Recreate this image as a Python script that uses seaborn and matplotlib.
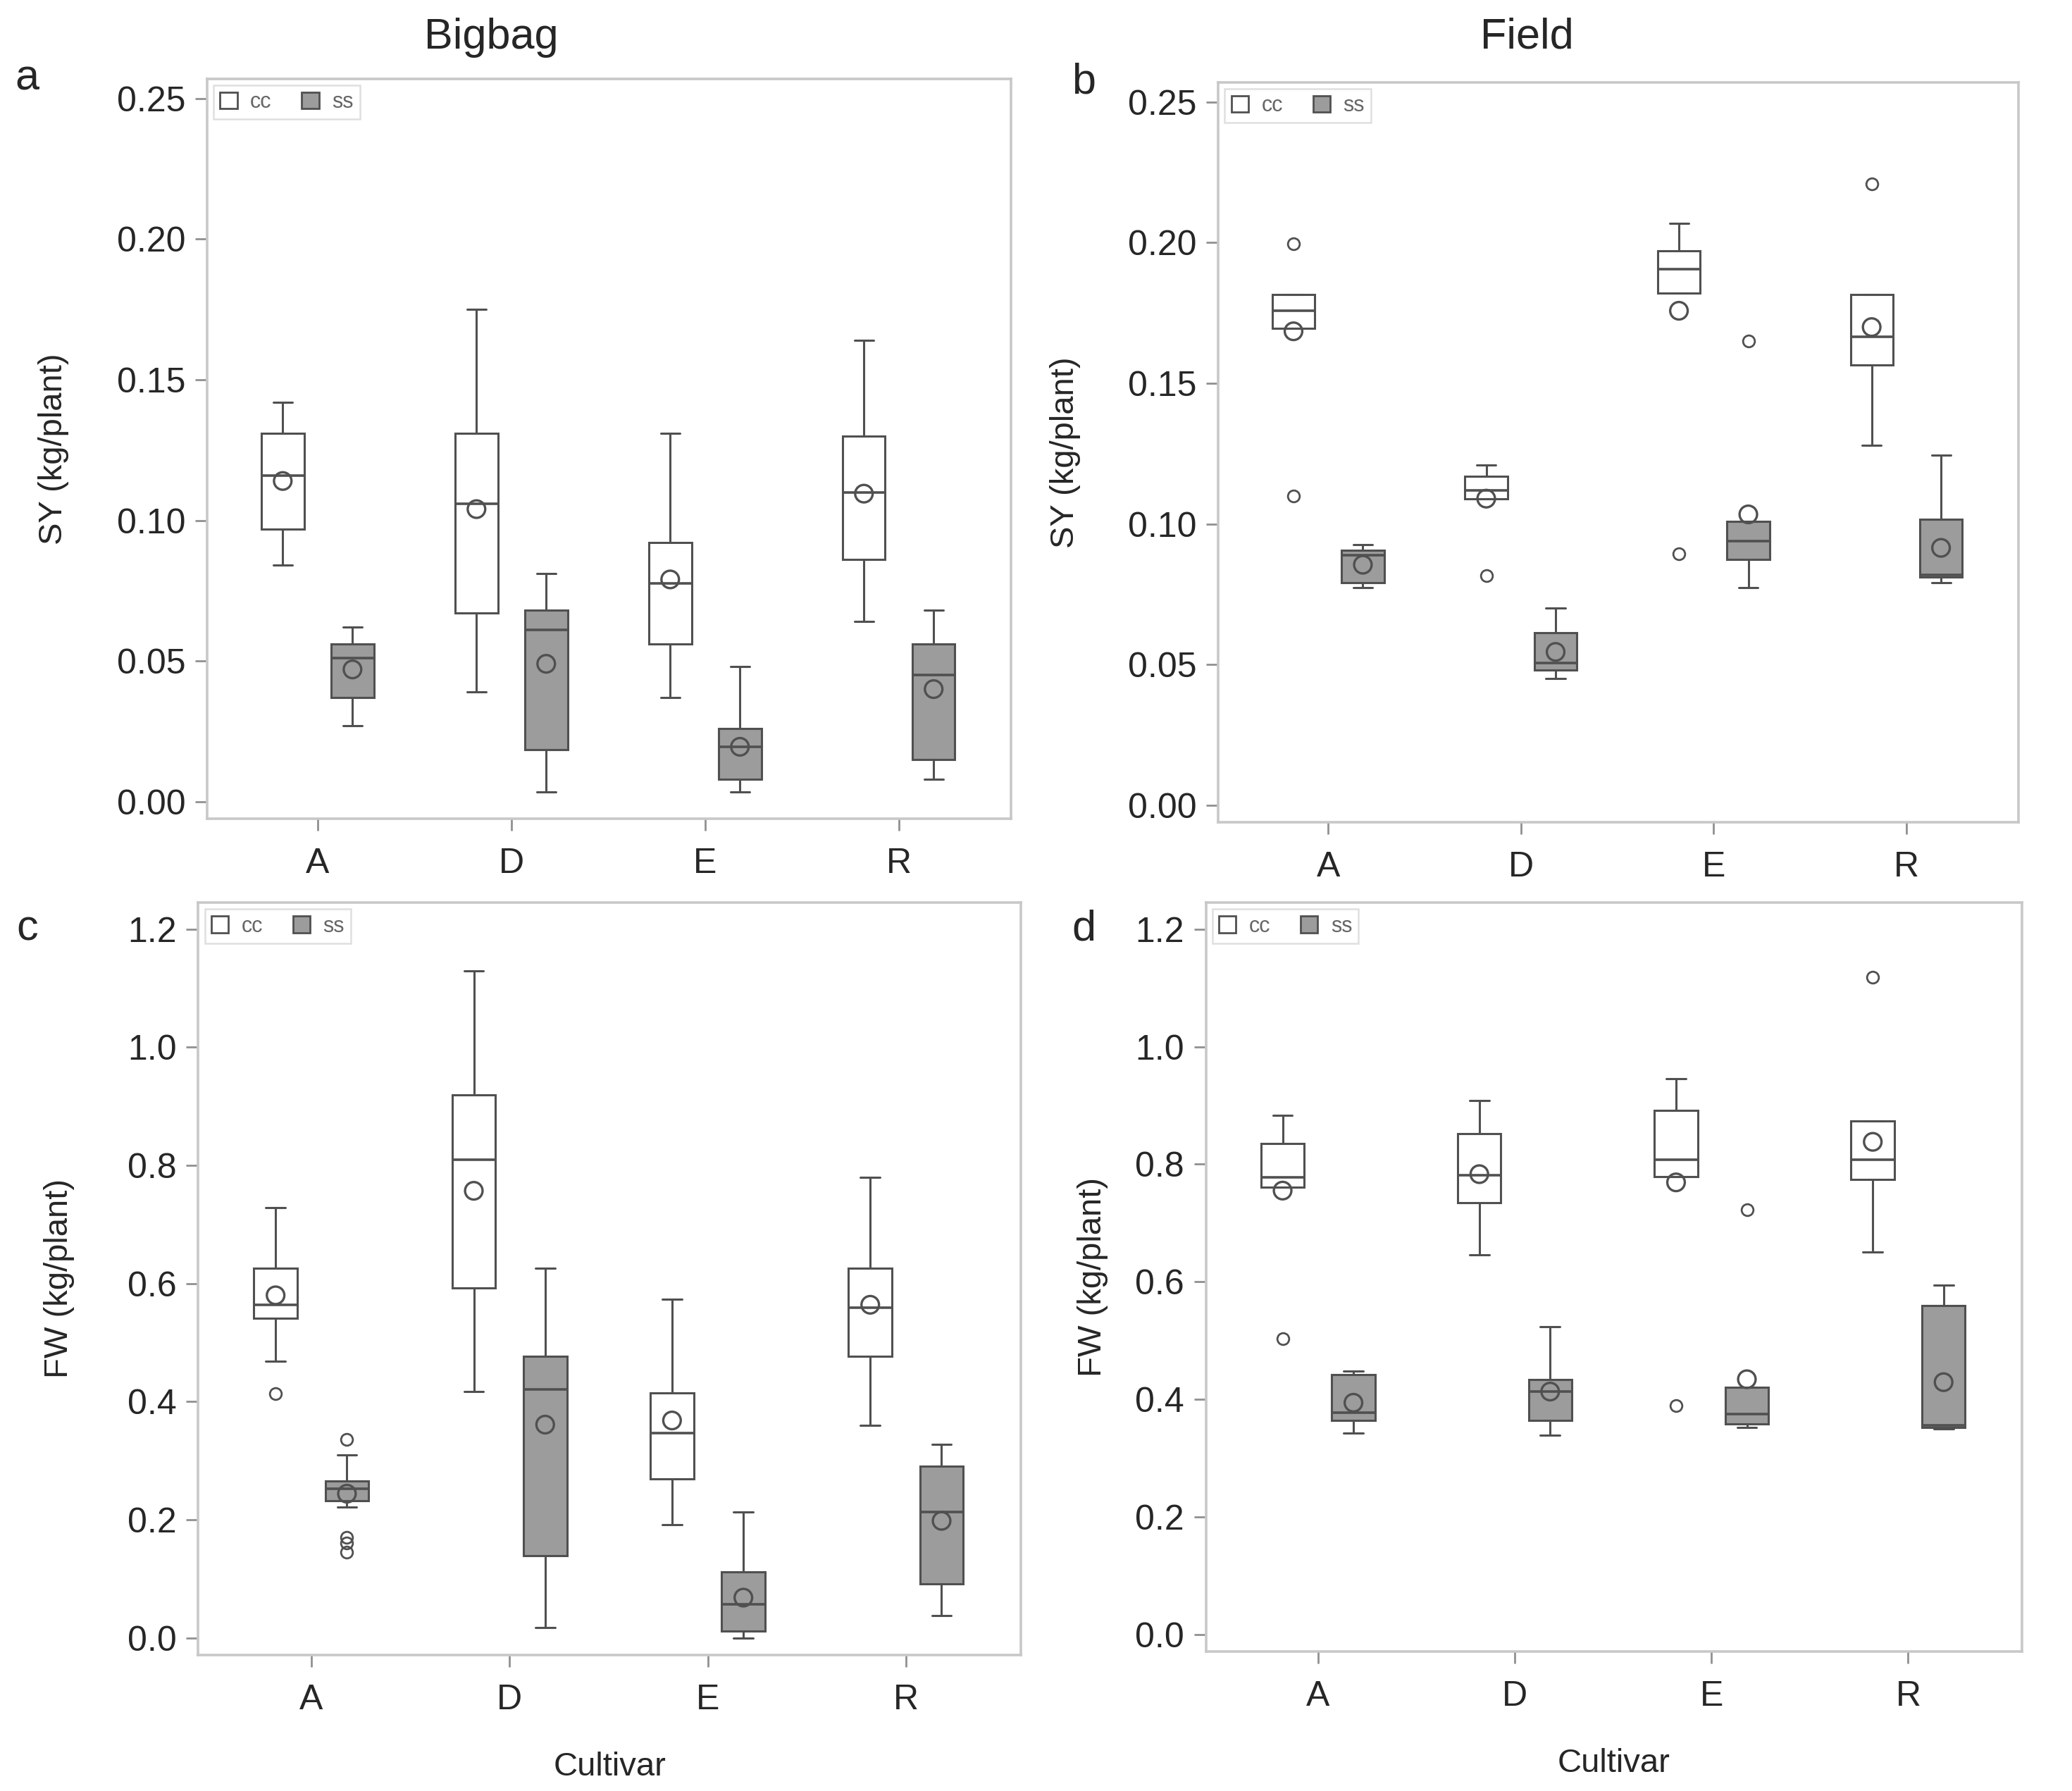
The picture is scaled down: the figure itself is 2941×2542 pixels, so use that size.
import numpy as np
import pandas as pd
import matplotlib
matplotlib.use('Agg')
import matplotlib.pyplot as plt
import seaborn as sns
from matplotlib.patches import Patch

# 品种与处理
cultivars = ['A', 'D', 'E', 'R']
groups = ['cc', 'ss']

# 每行: 下须, Q1, 中位数, Q3, 上须, 均值  (顺序 A, D, E, R)
sy_bigbag_cc = [[0.084, 0.097, 0.116, 0.131, 0.142, 0.114],
                [0.039, 0.067, 0.106, 0.131, 0.175, 0.104],
                [0.037, 0.056, 0.0775, 0.092, 0.131, 0.079],
                [0.064, 0.086, 0.110, 0.130, 0.164, 0.1095]]
sy_bigbag_ss = [[0.027, 0.037, 0.051, 0.056, 0.062, 0.047],
                [0.0034, 0.0185, 0.061, 0.068, 0.081, 0.049],
                [0.0034, 0.008, 0.0195, 0.026, 0.048, 0.0195],
                [0.008, 0.015, 0.045, 0.056, 0.068, 0.040]]
sy_field_cc = [[0.1696, 0.1696, 0.1758, 0.1816, 0.1816, 0.1685],
               [0.109, 0.109, 0.112, 0.117, 0.121, 0.109],
               [0.182, 0.182, 0.1907, 0.197, 0.207, 0.1758],
               [0.128, 0.1565, 0.1665, 0.1816, 0.1816, 0.170]]
sy_field_ss = [[0.0774, 0.079, 0.089, 0.0907, 0.0927, 0.0855],
               [0.045, 0.048, 0.0505, 0.0613, 0.0702, 0.0545],
               [0.0774, 0.0875, 0.0939, 0.1008, 0.1008, 0.1034],
               [0.079, 0.081, 0.0819, 0.1016, 0.1245, 0.0915]]
fw_bigbag_cc = [[0.468, 0.541, 0.564, 0.626, 0.728, 0.580],
                [0.417, 0.593, 0.810, 0.920, 1.129, 0.757],
                [0.191, 0.269, 0.347, 0.415, 0.573, 0.368],
                [0.360, 0.477, 0.559, 0.626, 0.780, 0.564]]
fw_bigbag_ss = [[0.221, 0.232, 0.252, 0.265, 0.310, 0.244],
                [0.0174, 0.139, 0.421, 0.477, 0.626, 0.361],
                [0.0, 0.0116, 0.057, 0.111, 0.213, 0.068],
                [0.037, 0.091, 0.213, 0.291, 0.327, 0.198]]
fw_field_cc = [[0.761, 0.761, 0.777, 0.835, 0.883, 0.755],
               [0.646, 0.735, 0.781, 0.852, 0.908, 0.783],
               [0.779, 0.779, 0.808, 0.892, 0.946, 0.769],
               [0.650, 0.774, 0.808, 0.873, 0.873, 0.838]]
fw_field_ss = [[0.342, 0.364, 0.377, 0.442, 0.448, 0.394],
               [0.339, 0.364, 0.413, 0.433, 0.523, 0.413],
               [0.352, 0.358, 0.375, 0.420, 0.420, 0.434],
               [0.350, 0.352, 0.356, 0.559, 0.594, 0.429]]

# 离群点 (按 A, D, E, R)
sy_bigbag_cc_out = [[], [], [], []]
sy_bigbag_ss_out = [[], [], [], []]
sy_field_cc_out = [[0.1997, 0.110], [0.0817], [0.0895], [0.221]]
sy_field_ss_out = [[], [], [0.165], []]
fw_bigbag_cc_out = [[0.414], [], [], []]
fw_bigbag_ss_out = [[0.336, 0.170, 0.160, 0.145], [], [], []]
fw_field_cc_out = [[0.503], [], [0.389], [1.118]]
fw_field_ss_out = [[], [], [0.723], []]

EDGE = '#505050'
SS_FILL = '#9c9c9c'
FRAME = '#c8c8c8'
OFFSET = 0.18
WIDTH = 0.22

sns.set_theme(style='white')
plt.rcParams['font.family'] = ['Liberation Sans', 'DejaVu Sans']


def make_stats(rows, outs):
    df = pd.DataFrame(rows, columns=['whislo', 'q1', 'med', 'q3', 'whishi', 'mean'])
    stats = []
    for i, r in df.iterrows():
        stats.append(dict(whislo=r.whislo, q1=r.q1, med=r.med, q3=r.q3,
                          whishi=r.whishi, mean=r['mean'], fliers=np.array(outs[i])))
    return df, stats


def draw_panel(ax, cc_rows, ss_rows, cc_out, ss_out, ylim, yticks, fmt, ylabel):
    x = np.arange(len(cultivars))
    for rows, outs, off, fill in [(cc_rows, cc_out, -OFFSET, 'white'),
                                  (ss_rows, ss_out, OFFSET, SS_FILL)]:
        df, stats = make_stats(rows, outs)
        ax.bxp(stats, positions=x + off, widths=WIDTH, capwidths=WIDTH * 0.45,
               patch_artist=True, showmeans=False, manage_ticks=False,
               boxprops=dict(facecolor=fill, edgecolor=EDGE, linewidth=1.1),
               medianprops=dict(color=EDGE, linewidth=1.3),
               whiskerprops=dict(color=EDGE, linewidth=1.1),
               capprops=dict(color=EDGE, linewidth=1.1),
               flierprops=dict(marker='o', markersize=6, markerfacecolor='none',
                               markeredgecolor=EDGE, markeredgewidth=1.0))
        sns.scatterplot(x=x + off, y=df['mean'], ax=ax, marker='o', s=80,
                        facecolor='none', edgecolor=EDGE, linewidth=1.2, zorder=5)
    ax.set_xlim(-0.57, 3.58)
    ax.set_ylim(*ylim)
    ax.set_xticks(x)
    ax.set_xticklabels(cultivars, fontsize=18)
    ax.set_yticks(yticks)
    ax.set_yticklabels([fmt.format(v) for v in yticks], fontsize=18)
    ax.tick_params(axis='both', direction='out', length=6, width=1.0,
                   color='#909090', pad=5, bottom=True, left=True)
    ax.tick_params(axis='x', pad=9)
    for s in ax.spines.values():
        s.set_color(FRAME)
        s.set_linewidth(1.3)
    ax.set_ylabel(ylabel, fontsize=17)
    ax.set_xlabel('')
    handles = [Patch(facecolor='white', edgecolor=EDGE, label='cc'),
               Patch(facecolor=SS_FILL, edgecolor=EDGE, label='ss')]
    leg = ax.legend(handles=handles, loc='upper left', ncol=2, fontsize=11,
                    frameon=True, fancybox=False, borderaxespad=0.3,
                    handlelength=0.8, handleheight=0.8, handletextpad=0.6,
                    columnspacing=1.4, borderpad=0.3)
    leg.get_frame().set_edgecolor('#d8d8d8')
    leg.get_frame().set_linewidth(0.9)
    for t in leg.get_texts():
        t.set_color('#666666')


fig = plt.figure(figsize=(14.705, 12.71), dpi=200)
ax_a = fig.add_axes([0.100, 0.543, 0.388, 0.413])
ax_b = fig.add_axes([0.588, 0.541, 0.386, 0.413])
ax_c = fig.add_axes([0.0957, 0.076, 0.397, 0.420])
ax_d = fig.add_axes([0.582, 0.078, 0.394, 0.418])

sy_ticks = [0.00, 0.05, 0.10, 0.15, 0.20, 0.25]
fw_ticks = [0.0, 0.2, 0.4, 0.6, 0.8, 1.0, 1.2]

draw_panel(ax_a, sy_bigbag_cc, sy_bigbag_ss, sy_bigbag_cc_out, sy_bigbag_ss_out,
           (-0.006, 0.257), sy_ticks, '{:.2f}', 'SY (kg/plant)')
draw_panel(ax_b, sy_field_cc, sy_field_ss, sy_field_cc_out, sy_field_ss_out,
           (-0.006, 0.257), sy_ticks, '{:.2f}', 'SY (kg/plant)')
draw_panel(ax_c, fw_bigbag_cc, fw_bigbag_ss, fw_bigbag_cc_out, fw_bigbag_ss_out,
           (-0.029, 1.245), fw_ticks, '{:.1f}', 'FW (kg/plant)')
draw_panel(ax_d, fw_field_cc, fw_field_ss, fw_field_cc_out, fw_field_ss_out,
           (-0.029, 1.245), fw_ticks, '{:.1f}', 'FW (kg/plant)')

ax_a.yaxis.set_label_coords(-0.172, 0.5)
ax_b.yaxis.set_label_coords(-0.172, 0.5)
ax_c.yaxis.set_label_coords(-0.15, 0.5)
ax_d.yaxis.set_label_coords(-0.12, 0.5)

for ax in (ax_c, ax_d):
    ax.set_xlabel('Cultivar', fontsize=17, labelpad=18)

# 列标题与面板字母
fig.text(0.237, 0.979, 'Bigbag', fontsize=22, ha='center', va='center')
fig.text(0.737, 0.979, 'Field', fontsize=22, ha='center', va='center')
for lab, (lx, ly) in zip('abcd', [(0.013, 0.956), (0.523, 0.954),
                                  (0.013, 0.481), (0.523, 0.481)]):
    fig.text(lx, ly, lab, fontsize=22, ha='center', va='center')

fig.savefig('out.png', dpi=200, facecolor='white')
